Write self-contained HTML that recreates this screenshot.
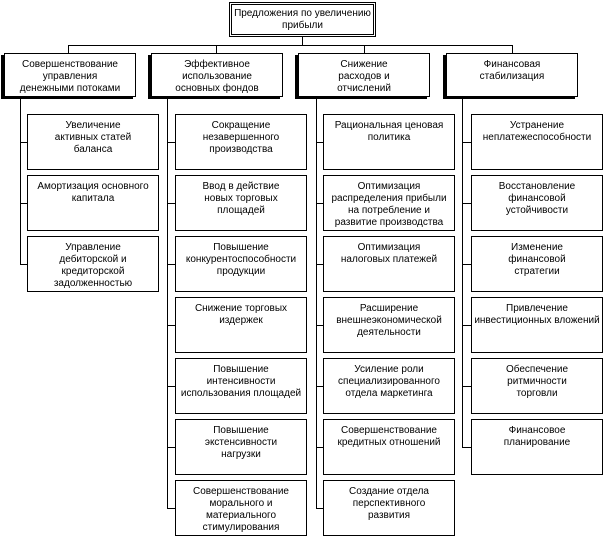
<!DOCTYPE html>
<html><head><meta charset="utf-8"><style>
body{margin:0;width:603px;height:537px;background:#fff;position:relative;overflow:hidden;font-family:"Liberation Sans",Arial,sans-serif;font-size:10px;line-height:12px;color:#000}
.b{position:absolute;border:1px solid #000;box-sizing:border-box;text-align:center;padding-top:5px;background:#fff}
.h{position:absolute;background:#000;height:1px}
.v{position:absolute;background:#000;width:1px}
.s{box-shadow:-3px 2px 0 #000}
</style></head><body>
<div class="b" style="left:229px;top:2px;width:147px;height:35px;border:3px double #000;padding-top:3px">Предложения по увеличению<br>прибыли</div>
<div class="v" style="left:302px;top:37px;height:8px"></div>
<div class="h" style="left:68px;top:45px;width:445px"></div>
<div class="v" style="left:68px;top:45px;height:8px"></div>
<div class="v" style="left:216px;top:45px;height:8px"></div>
<div class="v" style="left:364px;top:45px;height:8px"></div>
<div class="v" style="left:512px;top:45px;height:8px"></div>

<div class="b s" style="left:4px;top:53px;width:132px;height:44px">Совершенствование<br>управления<br>денежными потоками</div>
<div class="b s" style="left:151px;top:53px;width:132px;height:44px">Эффективное<br>использование<br>основных фондов</div>
<div class="b s" style="left:298px;top:53px;width:132px;height:44px">Снижение<br>расходов и<br>отчислений</div>
<div class="b s" style="left:446px;top:53px;width:132px;height:44px">Финансовая<br>стабилизация</div>

<div class="v" style="left:20px;top:97px;height:168px"></div>
<div class="v" style="left:167px;top:97px;height:411px"></div>
<div class="v" style="left:316px;top:97px;height:411px"></div>
<div class="v" style="left:462px;top:97px;height:350px"></div>

<!-- col1 -->
<div class="h" style="left:20px;top:142px;width:8px"></div>
<div class="h" style="left:20px;top:203px;width:8px"></div>
<div class="h" style="left:20px;top:264px;width:8px"></div>
<div class="b" style="left:27px;top:114px;width:132px;height:56px">Увеличение<br>активных статей<br>баланса</div>
<div class="b" style="left:27px;top:175px;width:132px;height:56px">Амортизация основного<br>капитала</div>
<div class="b" style="left:27px;top:236px;width:132px;height:56px">Управление<br>дебиторской и<br>кредиторской<br>задолженностью</div>

<!-- col2 -->
<div class="h" style="left:167px;top:142px;width:8px"></div>
<div class="h" style="left:167px;top:203px;width:8px"></div>
<div class="h" style="left:167px;top:264px;width:8px"></div>
<div class="h" style="left:167px;top:325px;width:8px"></div>
<div class="h" style="left:167px;top:386px;width:8px"></div>
<div class="h" style="left:167px;top:447px;width:8px"></div>
<div class="h" style="left:167px;top:508px;width:8px"></div>
<div class="b" style="left:175px;top:114px;width:132px;height:56px">Сокращение<br>незавершенного<br>производства</div>
<div class="b" style="left:175px;top:175px;width:132px;height:56px">Ввод в действие<br>новых торговых<br>площадей</div>
<div class="b" style="left:175px;top:236px;width:132px;height:56px">Повышение<br>конкурентоспособности<br>продукции</div>
<div class="b" style="left:175px;top:297px;width:132px;height:56px">Снижение торговых<br>издержек</div>
<div class="b" style="left:175px;top:358px;width:132px;height:56px">Повышение<br>интенсивности<br>использования площадей</div>
<div class="b" style="left:175px;top:419px;width:132px;height:56px">Повышение<br>экстенсивности<br>нагрузки</div>
<div class="b" style="left:175px;top:480px;width:132px;height:56px">Совершенствование<br>морального и<br>материального<br>стимулирования</div>

<!-- col3 -->
<div class="h" style="left:316px;top:142px;width:8px"></div>
<div class="h" style="left:316px;top:203px;width:8px"></div>
<div class="h" style="left:316px;top:264px;width:8px"></div>
<div class="h" style="left:316px;top:325px;width:8px"></div>
<div class="h" style="left:316px;top:386px;width:8px"></div>
<div class="h" style="left:316px;top:447px;width:8px"></div>
<div class="h" style="left:316px;top:508px;width:8px"></div>
<div class="b" style="left:323px;top:114px;width:132px;height:56px">Рациональная ценовая<br>политика</div>
<div class="b" style="left:323px;top:175px;width:132px;height:56px">Оптимизация<br>распределения прибыли<br>на потребление и<br>развитие производства</div>
<div class="b" style="left:323px;top:236px;width:132px;height:56px">Оптимизация<br>налоговых платежей</div>
<div class="b" style="left:323px;top:297px;width:132px;height:56px">Расширение<br>внешнеэкономической<br>деятельности</div>
<div class="b" style="left:323px;top:358px;width:132px;height:56px">Усиление роли<br>специализированного<br>отдела маркетинга</div>
<div class="b" style="left:323px;top:419px;width:132px;height:56px">Совершенствование<br>кредитных отношений</div>
<div class="b" style="left:323px;top:480px;width:132px;height:56px">Создание отдела<br>перспективного<br>развития</div>

<!-- col4 -->
<div class="h" style="left:462px;top:142px;width:9px"></div>
<div class="h" style="left:462px;top:203px;width:9px"></div>
<div class="h" style="left:462px;top:264px;width:9px"></div>
<div class="h" style="left:462px;top:325px;width:9px"></div>
<div class="h" style="left:462px;top:386px;width:9px"></div>
<div class="h" style="left:462px;top:447px;width:9px"></div>
<div class="b" style="left:471px;top:114px;width:132px;height:56px">Устранение<br>неплатежеспособности</div>
<div class="b" style="left:471px;top:175px;width:132px;height:56px">Восстановление<br>финансовой<br>устойчивости</div>
<div class="b" style="left:471px;top:236px;width:132px;height:56px">Изменение<br>финансовой<br>стратегии</div>
<div class="b" style="left:471px;top:297px;width:132px;height:56px">Привлечение<br>инвестиционных вложений</div>
<div class="b" style="left:471px;top:358px;width:132px;height:56px">Обеспечение<br>ритмичности<br>торговли</div>
<div class="b" style="left:471px;top:419px;width:132px;height:56px">Финансовое<br>планирование</div>
</body></html>
